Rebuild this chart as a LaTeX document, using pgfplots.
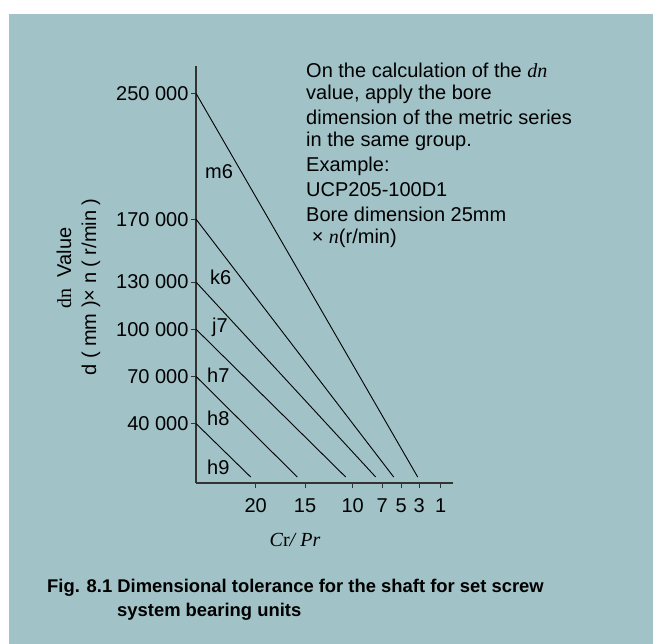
\documentclass[border=0pt]{standalone}
\usepackage{pgfplots}
\pgfplotsset{compat=1.18}
\usepackage{fontspec}
\setmainfont{Liberation Sans}
\newfontfamily\serif{Liberation Serif}
\definecolor{bg}{HTML}{A1C2C7}
\definecolor{axc}{HTML}{333333}
\begin{document}
\begin{tikzpicture}
\useasboundingbox (0,0) rectangle (653pt,-644pt);
\fill[white] (0,0) rectangle (653pt,-644pt);
\fill[bg] (9pt,-14pt) rectangle (653pt,-644pt);
\begin{axis}[
  scale only axis, width=257pt, height=417pt,
  at={(196pt,-483pt)}, anchor=south west,
  xmin=0, xmax=257, ymin=2200, ymax=267400,
  axis x line=bottom, axis y line=left,
  axis line style={-, draw=axc, line width=1.2pt},
  scaled y ticks=false, scaled x ticks=false,
  xtick={59.7,109,156.7,186.3,205.3,223.3,244.7},
  xticklabels={20,15,10,7,5,3,1},
  ytick={40000,70000,100000,130000,170000,250000},
  yticklabels={40 000,70 000,100 000,130 000,170 000,250 000},
  tick align=outside, major tick length=5pt,
  tick style={draw=axc, line width=1pt},
  ticklabel style={font=\fontsize{20}{24}\selectfont, text=black},
  xticklabel style={yshift=-7pt},
  yticklabel style={xshift=1pt},
  clip=false,
]
\addplot[black, line width=0.9pt] coordinates {(0,250000) (221.7,6000)};
\addplot[black, line width=0.9pt] coordinates {(0,170000) (197.7,6000)};
\addplot[black, line width=0.9pt] coordinates {(0,130000) (179.7,6000)};
\addplot[black, line width=0.9pt] coordinates {(0,100000) (149.7,6000)};
\addplot[black, line width=0.9pt] coordinates {(0,70000) (101.3,6000)};
\addplot[black, line width=0.9pt] coordinates {(0,40000) (54.7,6000)};
\begin{scope}[every node/.style={anchor=west, inner sep=0pt, font=\fontsize{20}{24}\selectfont}]
\node at (axis cs:9,200000) {m6};
\node at (axis cs:14,133200) {k6};
\node at (axis cs:16,101400) {j7};
\node at (axis cs:11,70900) {h7};
\node at (axis cs:11,43500) {h8};
\node at (axis cs:11,12400) {h9};
\end{scope}
\end{axis}
\node[rotate=90, font=\fontsize{20}{24}\selectfont] at (64pt,-268pt) {{\serif dn}\ \ Value};
\node[rotate=90, font=\fontsize{20}{24}\selectfont] at (91pt,-287pt) {d ( mm )× n ( r/min )};
\node[font=\fontsize{20}{24}\selectfont\serif\itshape] at (295pt,-540pt) {C{\upshape r}/ Pr};
\begin{scope}[every node/.style={anchor=west, inner sep=0pt, font=\fontsize{20}{24}\selectfont}]
\node at (306pt,-70pt) {On the calculation of the {\serif\itshape dn}};
\node at (306pt,-94pt) {value, apply the bore};
\node at (306pt,-117pt) {dimension of the metric series};
\node at (306pt,-141pt) {in the same group.};
\node at (306pt,-166pt) {Example:};
\node at (306pt,-190pt) {UCP205-100D1};
\node at (306pt,-214pt) {Bore dimension 25mm};
\node at (306pt,-238pt) {\ × {\serif\itshape n}(r/min)};
\end{scope}
\begin{scope}[every node/.style={anchor=west, inner sep=0pt, font=\fontsize{18.4}{22}\selectfont\bfseries}]
\node at (47pt,-588pt) {Fig. 8.1 Dimensional tolerance for the shaft for set screw};
\node at (117pt,-612pt) {system bearing units};
\end{scope}
\end{tikzpicture}
\end{document}
